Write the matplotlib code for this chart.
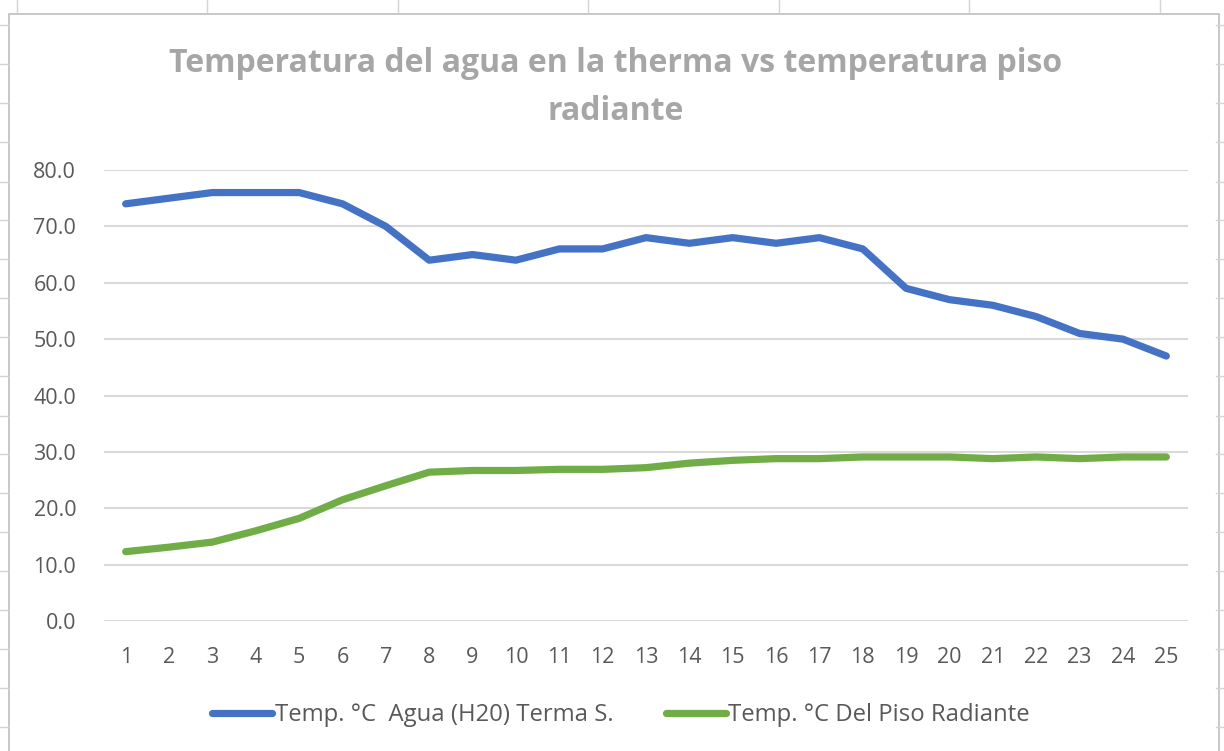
import numpy as np
import matplotlib.pyplot as plt
from matplotlib.lines import Line2D
from matplotlib.patches import Rectangle

# Data
muestras = list(range(1, 26))
temp_terma = [74, 75, 76, 76, 76, 74, 70, 64, 65, 64, 66, 66, 68, 67, 68,
              67, 68, 66, 59, 57, 56, 54, 51, 50, 47]
temp_piso = [12.3, 13.1, 14.0, 16.0, 18.2, 21.5, 24.0, 26.4, 26.7, 26.7,
             26.9, 26.9, 27.2, 28.0, 28.5, 28.8, 28.8, 29.1, 29.1, 29.1,
             28.8, 29.1, 28.8, 29.1, 29.1]
y_ticks = [0, 10, 20, 30, 40, 50, 60, 70, 80]

label_terma = 'Temp. °C  Agua (H20) Terma S.'
label_piso = 'Temp. °C Del Piso Radiante'
title = 'Temperatura del agua en la therma vs temperatura piso\nradiante'

W, H = 1224, 751
plt.rcParams['font.family'] = ['Open Sans', 'DejaVu Sans']
fig = plt.figure(figsize=(W / 100, H / 100), dpi=100)

# spreadsheet cells behind the chart
cell_col = '#d4d4d4'
for xp in [17, 207, 398, 588, 779, 969, 1160]:
    fig.add_artist(Line2D([xp / W, xp / W], [1, 1 - 12 / H], color=cell_col, lw=1))
for yp in [25, 64, 103, 142, 182, 220, 259, 298, 337, 376, 416, 454, 493,
           532, 571, 610, 649, 688, 727]:
    fig.add_artist(Line2D([0, 8 / W], [1 - yp / H, 1 - yp / H], color=cell_col, lw=1))
    fig.add_artist(Line2D([1216 / W, 1], [1 - yp / H, 1 - yp / H], color=cell_col, lw=1))
fig.add_artist(Rectangle((9 / W, -0.01), (1219 - 9) / W, 1 - 14 / H + 0.01,
                         transform=fig.transFigure, fill=False,
                         edgecolor='#bfbfbf', lw=1.2))

# plot area
ax = fig.add_axes([104 / W, 1 - 621 / H, (1188 - 104) / W, (621 - 170) / H])
ax.plot(muestras, temp_terma, color='#4472C4', lw=5.2, solid_capstyle='round',
        solid_joinstyle='round', label=label_terma)
ax.plot(muestras, temp_piso, color='#70AD47', lw=5.2, solid_capstyle='round',
        solid_joinstyle='round', label=label_piso)

ax.set_xlim(0.5, 25.5)
ax.set_ylim(0, 80)
ax.set_xticks(muestras)
ax.set_yticks(y_ticks)
ax.set_yticklabels([f'{v:.1f}' for v in y_ticks])
ax.grid(axis='y', color='#d9d9d9', lw=1.5)
ax.set_axisbelow(True)
for s in ax.spines.values():
    s.set_visible(False)
ax.tick_params(length=0, labelsize=15.5, labelcolor='#595959')
ax.tick_params(axis='y', pad=20)
ax.tick_params(axis='x', pad=19)

fig.text(616 / W, 1 - 87 / H, title, ha='center', va='center', fontsize=23,
         fontweight='bold', color='#a6a6a6', linespacing=1.6)

fig.legend(loc='center', bbox_to_anchor=(621 / W, 1 - 715 / H), ncol=2,
           frameon=False, fontsize=17.2, labelcolor='#595959',
           handlelength=2.5, handletextpad=0.1, columnspacing=2.2)

fig.savefig('out.png', dpi=100, facecolor='white')
